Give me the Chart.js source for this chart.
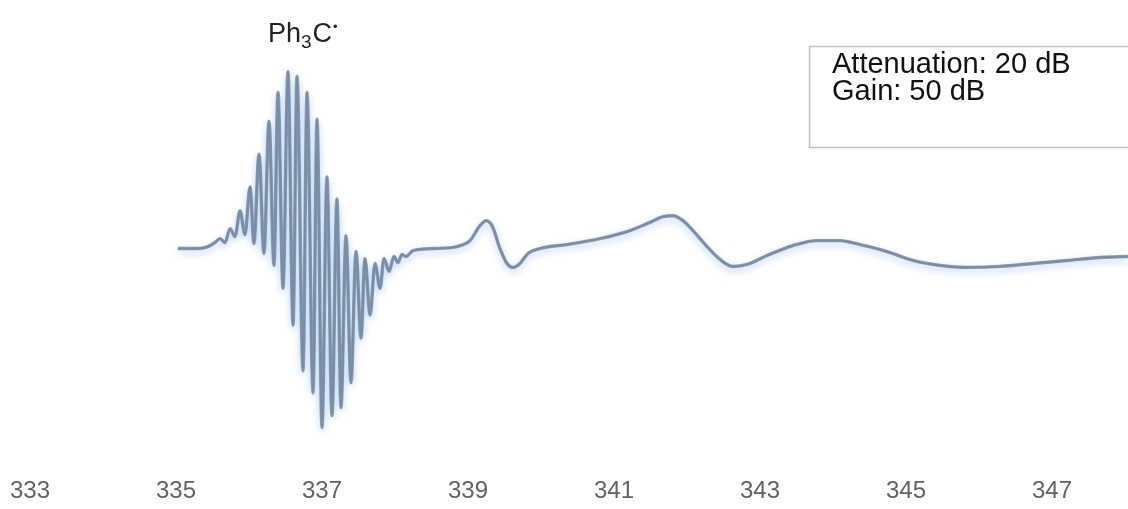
<!DOCTYPE html>
<html>
<head>
<meta charset="utf-8">
<script src="https://cdn.jsdelivr.net/npm/chart.js@4/dist/chart.umd.min.js"></script>
<style>
    html, body { margin: 0; padding: 0; background: #fff; }
    #wrap { position: relative; width: 1128px; height: 509px; }
</style>
</head>
<body>
<div id="wrap"><canvas id="eprChart" width="1128" height="509"></canvas></div>
<script>
// field in mT
const field = [
    335.027, 335.260, 335.397, 335.493, 335.548, 335.603, 335.671, 335.740, 335.808, 335.877,
    335.945, 336.014, 336.068, 336.137, 336.205, 336.274, 336.342, 336.397, 336.466, 336.534,
    336.603, 336.658, 336.740, 336.795, 336.877, 336.932, 337.000, 337.068, 337.137, 337.205,
    337.260, 337.329, 337.397, 337.466, 337.534, 337.589, 337.658, 337.726, 337.795, 337.849,
    337.918, 337.986, 338.041, 338.096, 338.151, 338.247, 338.521, 338.849, 339.027, 339.164,
    339.247, 339.329, 339.438, 339.534, 339.616, 339.712, 339.822, 339.986, 340.356, 340.808,
    341.178, 341.452, 341.671, 341.808, 341.945, 342.082, 342.274, 342.452, 342.630, 342.822,
    343.096, 343.452, 343.781, 344.096, 344.370, 344.740, 345.096, 345.466, 345.836, 346.288,
    346.740, 347.205, 347.658, 348.041
]

// first-derivative signal, arbitrary units
const signal = [
    0, 0, 1, 4, 7, 10, 6, 20, 12, 38,
    14, 62, 5, 95, -5, 128, -17, 157, -40, 178,
    -77, 173, -123, 157, -145, 130, -180, 72, -168, 50,
    -160, 13, -135, -3, -90, -10, -67, -15, -40, -10,
    -23, -8, -14, -6, -8, -2, 0, 2, 8, 23,
    28, 23, 0, -15, -19, -15, -5, 0, 4, 10,
    17, 25, 32, 33, 28, 18, 2, -11, -18, -16,
    -7, 3, 8, 8, 4, -3, -12, -17, -19, -18,
    -15, -12, -9, -8
]

const tickValues = [333, 335, 337, 339, 341, 343, 345, 347]

const radicalLabel = ['Ph', '3', 'C', '•']
const settingsLines = ['Attenuation: 20 dB', 'Gain: 50 dB']

const points = field.map((x, i) => ({ x, y: signal[i] }))

const shadowPlugin = {
    id: 'shadow',
    beforeDatasetsDraw: chart => {
        const ctx = chart.ctx
        ctx.save()
        ctx.shadowColor = 'rgba(120, 170, 230, 0.4)'
        ctx.shadowBlur = 7
        ctx.shadowOffsetY = 3
    },
    afterDatasetsDraw: chart => {
        chart.ctx.restore()
    }
}

const notesPlugin = {
    id: 'notes',
    afterDraw: chart => {
        const ctx = chart.ctx
        ctx.save()
        ctx.fillStyle = '#222'
        ctx.textBaseline = 'alphabetic'
        ctx.textAlign = 'left'

        // Ph3C. label
        let x = 268
        ctx.font = '27px "Liberation Sans", Arial, sans-serif'
        ctx.fillText(radicalLabel[0], x, 42)
        x += ctx.measureText(radicalLabel[0]).width
        ctx.font = '19px "Liberation Sans", Arial, sans-serif'
        ctx.fillText(radicalLabel[1], x, 48)
        x += ctx.measureText(radicalLabel[1]).width + 1
        ctx.font = '27px "Liberation Sans", Arial, sans-serif'
        ctx.fillText(radicalLabel[2], x, 42)
        x += ctx.measureText(radicalLabel[2]).width
        ctx.font = '13px "Liberation Sans", Arial, sans-serif'
        ctx.fillText(radicalLabel[3], x + 1, 31)

        // settings box
        ctx.strokeStyle = '#c2c2c2'
        ctx.lineWidth = 1.5
        ctx.strokeRect(809.5, 46.5, 330, 101)
        ctx.fillStyle = '#111'
        ctx.font = '29px "Liberation Sans", Arial, sans-serif'
        settingsLines.forEach((line, i) => ctx.fillText(line, 832, 73 + i * 27))
        ctx.restore()
    }
}

const data = {
    datasets: [
        {
            data: points,
            borderColor: 'rgba(118, 130, 148, 0.75)',
            borderWidth: 3.4,
            pointRadius: 0,
            cubicInterpolationMode: 'monotone'
        },
        {
            data: points,
            borderColor: '#7fb1e8',
            borderWidth: 2.1,
            pointRadius: 0,
            cubicInterpolationMode: 'monotone'
        }
    ]
}

const options = {
    responsive: false,
    animation: false,
    devicePixelRatio: 1,
    layout: { padding: 0 },
    plugins: {
        legend: { display: false },
        tooltip: { enabled: false }
    },
    scales: {
        x: {
            type: 'linear',
            min: 332.589,
            max: 348.041,
            afterBuildTicks: scale => { scale.ticks = tickValues.map(value => ({ value })) },
            grid: { display: false, drawTicks: false },
            border: { display: false },
            ticks: {
                autoSkip: false,
                maxRotation: 0,
                padding: 3,
                color: '#626262',
                font: { family: '"Liberation Sans", Arial, sans-serif', size: 24 }
            }
        },
        y: {
            display: false,
            min: -227,
            max: 250
        }
    }
}

new Chart('eprChart', { type: 'line', data, options, plugins: [shadowPlugin, notesPlugin] })
</script>
</body>
</html>
